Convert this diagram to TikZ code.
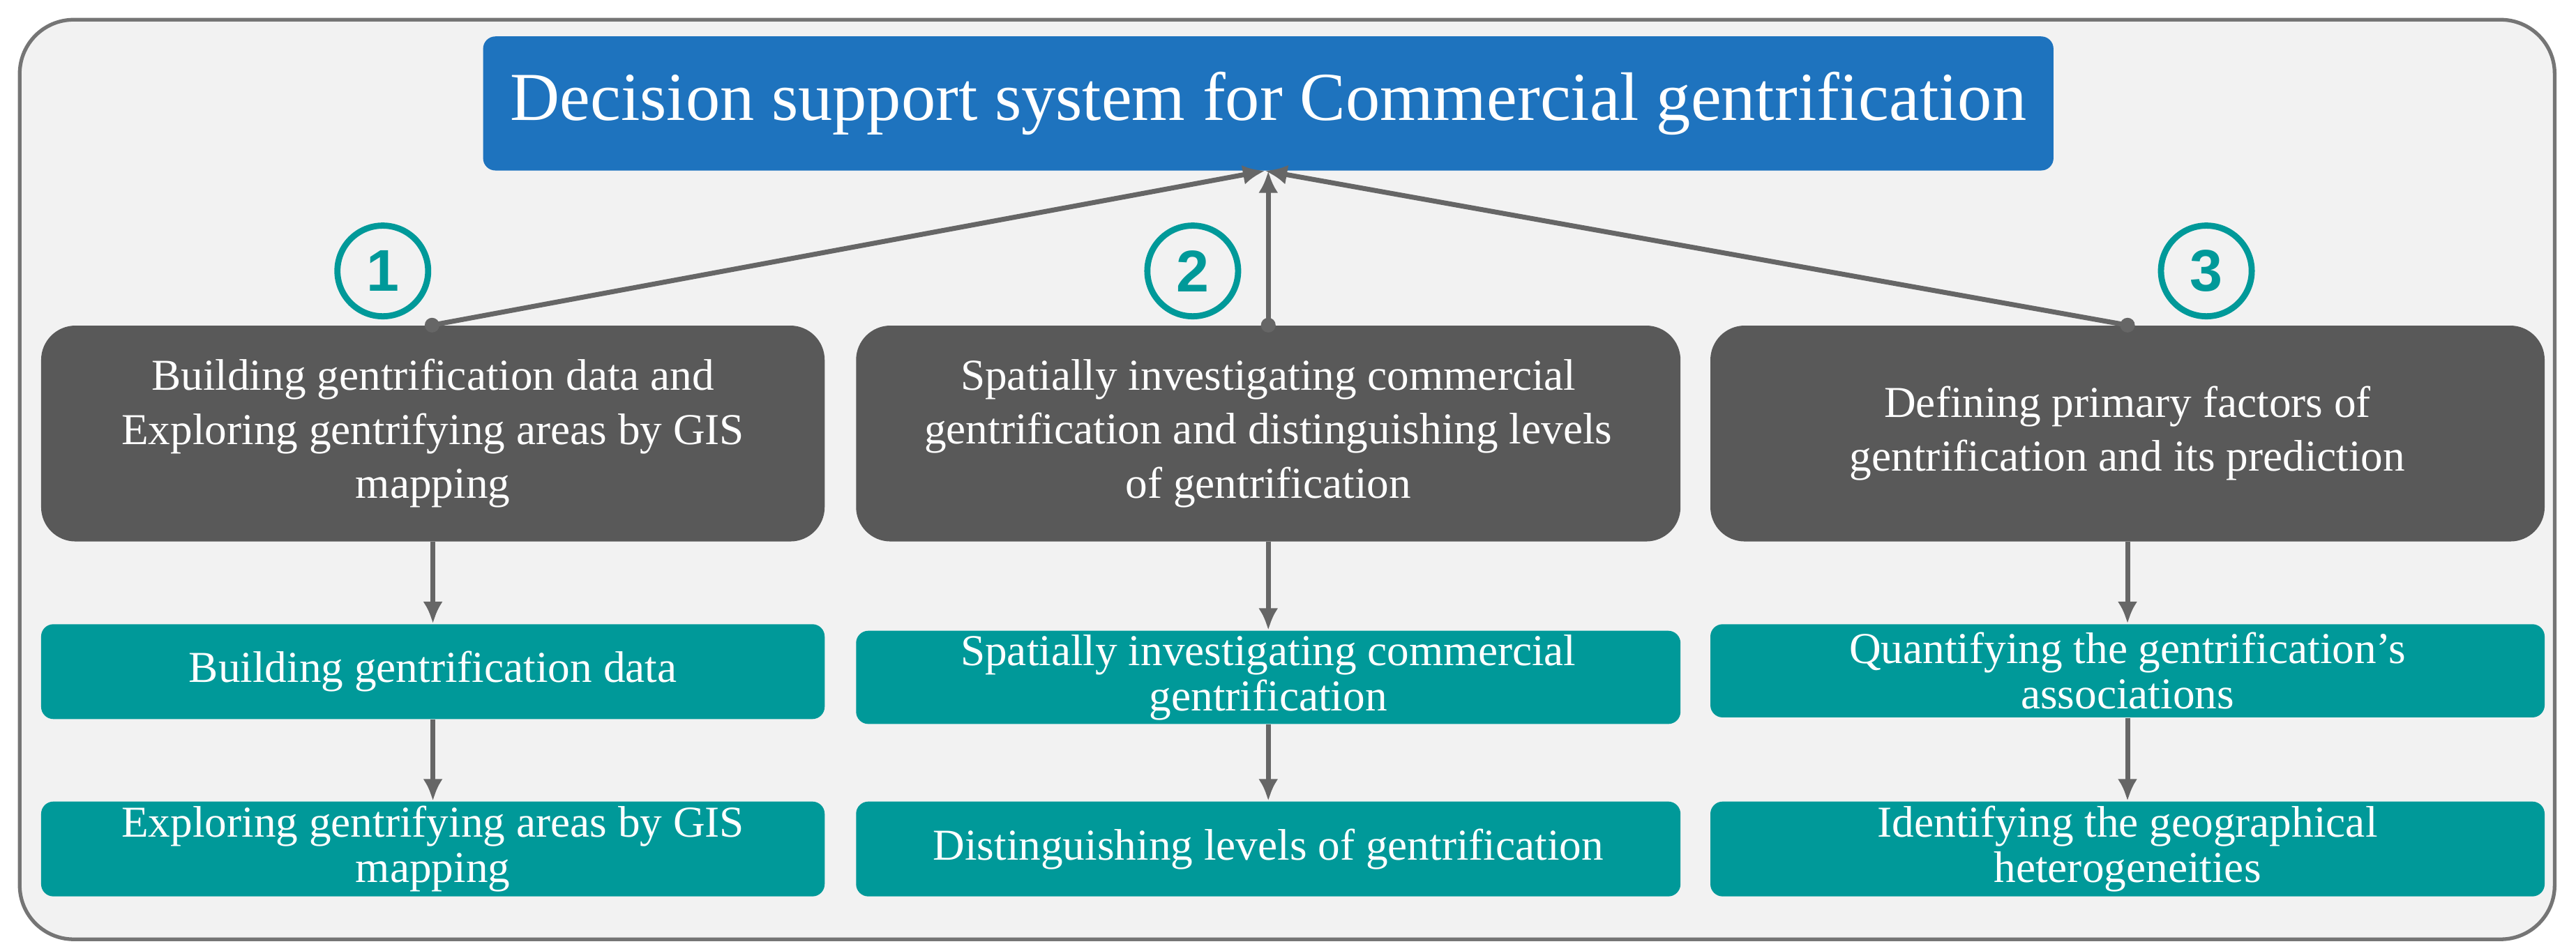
\documentclass[tikz,border=0pt]{standalone}
\usepackage{fontspec}
\setmainfont{Liberation Serif}
\newfontfamily\numfont{Liberation Sans}
\usetikzlibrary{arrows.meta}
\definecolor{bluebox}{HTML}{1E73BE}
\definecolor{darkbox}{HTML}{595959}
\definecolor{tealbox}{HTML}{009999}
\definecolor{arr}{HTML}{666666}
\begin{document}
\begin{tikzpicture}[x=0.02355cm,y=-0.02355cm,
  dark/.style={draw=none,fill=darkbox,rounded corners=14pt,text=white,align=center,font=\fontsize{18}{22}\selectfont},
  teal/.style={draw=none,fill=tealbox,rounded corners=5pt,text=white,align=center,inner sep=0pt,font=\fontsize{18}{18.5}\selectfont},
  num/.style={circle,draw=tealbox,line width=2.5pt,text=tealbox,minimum size=37pt,inner sep=0pt,font=\numfont\bfseries\fontsize{24}{24}\selectfont},
  link/.style={draw=arr,line width=2pt,-{Latex[length=9pt,width=8pt]}},
  dot/.style={circle,fill=arr,inner sep=0pt,minimum size=6pt}]
\useasboundingbox (0,0) rectangle (1568,579);
\draw[draw=arr!90,line width=1.5pt,fill=black!5,rounded corners=22pt] (12,12) rectangle (1555,572);
\node[fill=bluebox,rounded corners=5pt,text=white,minimum width=960*0.667pt,minimum height=82*0.667pt,font=\fontsize{28}{32}\selectfont] (title) at (772,63) {Decision support system for Commercial gentrification};
\coordinate (tb) at (770,104);
\node[dark,minimum width=479*0.667pt,minimum height=132*0.667pt] (d1) at (263.5,264) {Building gentrification data and\\Exploring gentrifying areas by GIS\\mapping};
\node[dark,minimum width=504*0.667pt,minimum height=132*0.667pt] (d2) at (772,264) {Spatially investigating commercial\\gentrification and distinguishing levels\\of gentrification};
\node[dark,minimum width=510*0.667pt,minimum height=132*0.667pt] (d3) at (1295,264) {Defining primary factors of\\gentrification and its prediction};
\node[teal,minimum width=479*0.667pt,minimum height=58*0.667pt] (a1) at (263.5,409) {Building gentrification data};
\node[teal,minimum width=479*0.667pt,minimum height=58*0.667pt] (b1) at (263.5,517) {Exploring gentrifying areas by GIS\\mapping};
\node[teal,minimum width=504*0.667pt,minimum height=57*0.667pt] (a2) at (772,412.5) {Spatially investigating commercial\\gentrification};
\node[teal,minimum width=504*0.667pt,minimum height=58*0.667pt] (b2) at (772,517) {Distinguishing levels of gentrification};
\node[teal,minimum width=510*0.667pt,minimum height=57*0.667pt] (a3) at (1295,408.5) {Quantifying the gentrification's\\associations};
\node[teal,minimum width=510*0.667pt,minimum height=58*0.667pt] (b3) at (1295,517) {Identifying the geographical\\heterogeneities};
\node[num] (n1) at (233,165) {1};
\node[num] (n2) at (726,165) {2};
\node[num] (n3) at (1343,165) {3};
\coordinate (s1) at (263,198);
\coordinate (s2) at (772,198);
\coordinate (s3) at (1295,198);
\draw[link] (s1) -- (tb);
\draw[link] (s2) -- (772,104);
\draw[link] (s3) -- (tb);
\node[dot] at (s1) {};
\node[dot] at (s2) {};
\node[dot] at (s3) {};
\draw[link] (d1.south) -- (a1.north);
\draw[link] (a1.south) -- (b1.north);
\draw[link] (d2.south) -- (a2.north);
\draw[link] (a2.south) -- (b2.north);
\draw[link] (d3.south) -- (a3.north);
\draw[link] (a3.south) -- (b3.north);
\end{tikzpicture}
\end{document}
